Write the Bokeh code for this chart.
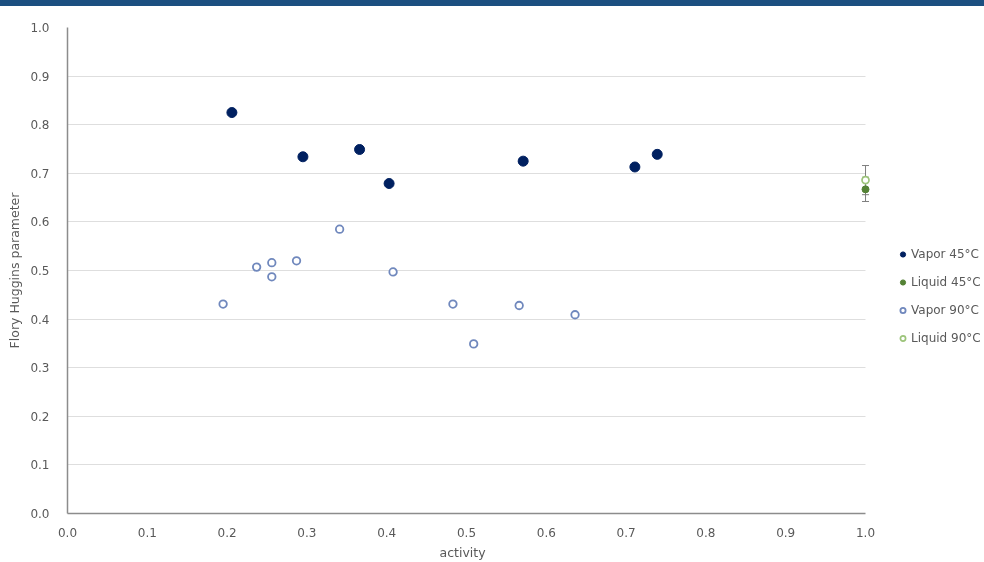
from bokeh.plotting import figure
from bokeh.models import (ColumnDataSource, Legend, LegendItem, Whisker, TeeHead,
                          SingleIntervalTicker, NumeralTickFormatter, Div, Title)
from bokeh.layouts import column
from bokeh.embed import file_html
from bokeh.resources import INLINE

# ---- data ----
vapor45_x = [0.206, 0.295, 0.366, 0.403, 0.571, 0.711, 0.739]
vapor45_y = [0.825, 0.734, 0.749, 0.679, 0.725, 0.713, 0.739]

vapor90_x = [0.195, 0.237, 0.256, 0.256, 0.287, 0.341, 0.408, 0.483, 0.509, 0.566, 0.636]
vapor90_y = [0.431, 0.507, 0.516, 0.487, 0.520, 0.585, 0.497, 0.431, 0.349, 0.428, 0.409]

liquid45_x = [1.0]
liquid45_y = [0.667]
liquid45_err = [0.025]

liquid90_x = [1.0]
liquid90_y = [0.686]
liquid90_err = [0.03]

series_names = ["Vapor 45°C", "Liquid 45°C", "Vapor 90°C", "Liquid 90°C"]
x_title = "activity"
y_title = "Flory Huggins parameter"

FONT = "DejaVu Sans"
TXT = "#595959"

# plotted axis runs 0..1; the frame is widened to hold the legend on its right
p = figure(width=984, height=562, x_range=(0, 1.1491), y_range=(0, 1.0),
           output_backend="svg", toolbar_location=None,
           min_border_left=67, min_border_right=0, min_border_top=27, min_border_bottom=48)
p.outline_line_color = None
p.background_fill_color = "white"

# axes
for ax in (p.xaxis[0], p.yaxis[0]):
    ax.ticker = SingleIntervalTicker(interval=0.1)
    ax.formatter = NumeralTickFormatter(format="0.0")
    ax.major_tick_line_color = None
    ax.minor_tick_line_color = None
    ax.axis_line_color = "#8c8c8c"
    ax.axis_line_width = 1.5
    ax.major_label_text_font = FONT
    ax.major_label_text_font_size = "12px"
    ax.major_label_text_color = TXT
    ax.axis_label_text_font = FONT
    ax.axis_label_text_font_size = "12.5px"
    ax.axis_label_text_font_style = "normal"
    ax.axis_label_text_color = TXT

p.xaxis.bounds = (0, 1.0)
p.yaxis.axis_label = y_title
p.xaxis.major_label_standoff = 8
p.yaxis.major_label_standoff = 12
p.yaxis.axis_label_standoff = 5

# x-axis title centred under the 0..1 span
p.add_layout(Title(text=x_title, align="left", offset=372, standoff=6,
                   text_font=FONT, text_font_size="12.5px", text_font_style="normal",
                   text_color=TXT), "below")

p.xgrid.grid_line_color = None
p.ygrid.grid_line_color = "#dedede"
p.ygrid.grid_line_width = 1
p.ygrid.cross_bounds = (0, 1.0)

# error bars for liquid points
src_l45 = ColumnDataSource(dict(x=liquid45_x, y=liquid45_y,
                                lo=[y - e for y, e in zip(liquid45_y, liquid45_err)],
                                hi=[y + e for y, e in zip(liquid45_y, liquid45_err)]))
src_l90 = ColumnDataSource(dict(x=liquid90_x, y=liquid90_y,
                                lo=[y - e for y, e in zip(liquid90_y, liquid90_err)],
                                hi=[y + e for y, e in zip(liquid90_y, liquid90_err)]))
for src in (src_l45, src_l90):
    w = Whisker(base="x", lower="lo", upper="hi", source=src, dimension="height",
                line_color="#7f7f7f", line_width=1,
                upper_head=TeeHead(size=7, line_color="#7f7f7f", line_width=1),
                lower_head=TeeHead(size=7, line_color="#7f7f7f", line_width=1))
    p.add_layout(w)

r_v45 = p.scatter(vapor45_x, vapor45_y, size=10, fill_color="#002060", line_color="#002060")
r_l45 = p.scatter("x", "y", source=src_l45, size=7, fill_color="#548235", line_color="#548235")
r_v90 = p.scatter(vapor90_x, vapor90_y, size=7.5, fill_color="white", line_color="#7088bd", line_width=1.8)
r_l90 = p.scatter("x", "y", source=src_l90, size=7, fill_color="white", line_color="#9cc47a", line_width=1.7)

legend = Legend(items=[LegendItem(label=n, renderers=[r]) for n, r in
                       zip(series_names, [r_v45, r_l45, r_v90, r_l90])],
                location=(829, 165), orientation="vertical",
                glyph_width=13, glyph_height=20, spacing=8, padding=0, margin=0,
                label_standoff=2, label_text_font=FONT, label_text_font_size="12px",
                label_text_color=TXT, border_line_color=None, background_fill_alpha=0)
p.add_layout(legend, "center")

bar = Div(text='<div style="position:fixed;top:0;left:0;width:984px;height:6px;background:#1c4f80;z-index:10;"></div>',
          width=1, height=1)

layout = column(p, bar)
layout.styles = {"position": "fixed", "top": "0px", "left": "0px"}
open("out.html", "w").write(file_html(layout, INLINE))
